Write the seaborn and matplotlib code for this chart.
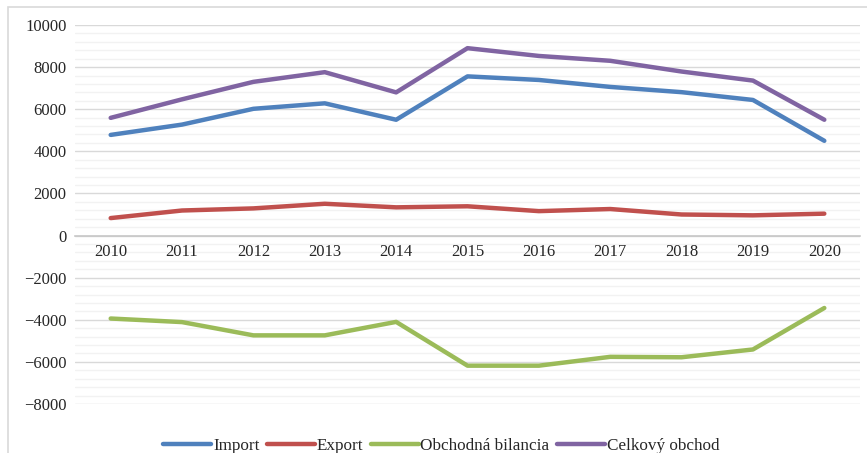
import numpy as np
import pandas as pd
import matplotlib
matplotlib.use("Agg")
import matplotlib.pyplot as plt
import seaborn as sns
from matplotlib.patches import Rectangle

years = [2010, 2011, 2012, 2013, 2014, 2015, 2016, 2017, 2018, 2019, 2020]
import_vals = [4780, 5270, 6020, 6280, 5500, 7560, 7390, 7060, 6810, 6440, 4500]
export_vals = [830, 1190, 1290, 1510, 1340, 1390, 1160, 1260, 1000, 960, 1040]
balance_vals = [-3940, -4110, -4740, -4740, -4100, -6180, -6180, -5760, -5780, -5410, -3440]
total_vals = [5590, 6470, 7300, 7760, 6800, 8900, 8530, 8300, 7790, 7360, 5500]
series_names = ["Import", "Export", "Obchodná bilancia", "Celkový obchod"]
colors = ["#4F81BD", "#C0504D", "#9BBB59", "#8064A2"]

df = pd.DataFrame({
    "Rok": years * 4,
    "Hodnota": import_vals + export_vals + balance_vals + total_vals,
    "Séria": [n for n in series_names for _ in years],
})

sns.set_style("white")
plt.rcParams['font.family'] = ['Liberation Serif', 'DejaVu Serif']

fig = plt.figure(figsize=(8.67, 4.53), dpi=100)
ax = fig.add_axes([75 / 867, 49 / 453, 785 / 867, 379 / 453])

# chart frame (cut off on right and bottom)
fig.patches.append(Rectangle((8 / 867, -0.1), 1.2, 1 - 7 / 453 + 0.1,
                             transform=fig.transFigure, fill=False,
                             edgecolor="#d9d9d9", linewidth=1.2, zorder=0))

sns.lineplot(data=df, x="Rok", y="Hodnota", hue="Séria", palette=colors,
             linewidth=3.2, ax=ax, legend=True, solid_capstyle="round")

ax.set_ylim(-8000, 10000)
ax.set_xlim(2009.5, 2020.5)
ax.set_yticks(np.arange(-8000, 10001, 2000))
ax.set_yticks(np.arange(-8000, 10001, 400), minor=True)
ax.set_xticks(years)
ax.grid(axis="y", which="major", color="#d9d9d9", linewidth=1)
ax.grid(axis="y", which="minor", color="#f2f2f2", linewidth=1)
ax.set_axisbelow(True)
ax.xaxis.set_zorder(1)

for s in ["top", "right", "left"]:
    ax.spines[s].set_visible(False)
ax.spines["bottom"].set_position(("data", 0))
ax.spines["bottom"].set_color("#c8c8c8")
ax.spines["bottom"].set_linewidth(1.2)
ax.spines["bottom"].set_zorder(0.8)

ax.tick_params(axis="both", which="both", length=0, labelsize=12)
ax.tick_params(axis="y", pad=6)
ax.tick_params(axis="x", pad=6)
ax.set_xlabel("")
ax.set_ylabel("")

handles, labels = ax.get_legend_handles_labels()
ax.get_legend().remove()
fig.legend(handles, labels, loc="center", bbox_to_anchor=(0.509, 0.015),
           ncol=4, frameon=False, fontsize=12.3, handlelength=2.8,
           handletextpad=0.1, columnspacing=0.45)

fig.savefig("out.png", dpi=100)
